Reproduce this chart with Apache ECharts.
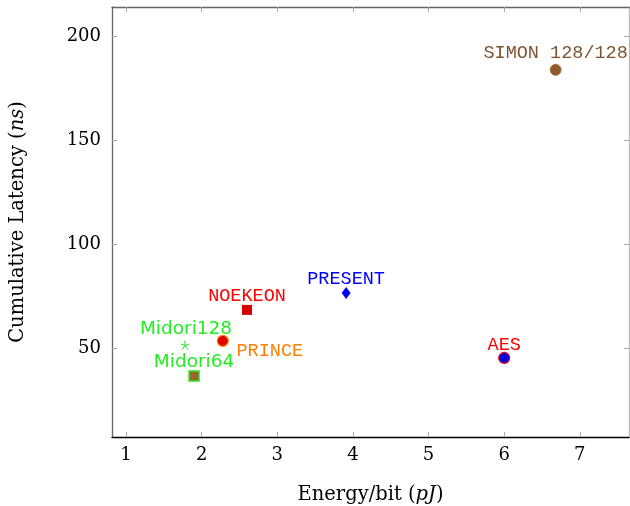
<!DOCTYPE html>
<html><head><meta charset="utf-8">
<script src="https://cdn.jsdelivr.net/npm/echarts@6/dist/echarts.min.js"></script>
<style>html,body{margin:0;padding:0;background:#fff}#c{width:630px;height:506px}</style>
</head><body><div id="c"></div>
<script>
const cipherNames = ['SIMON 128/128','AES','PRESENT','NOEKEON','PRINCE','Midori128','Midori64'];
const energy = [6.68, 6.0, 3.91, 2.6, 2.28, 1.78, 1.9];
const latency = [183.7, 45.2, 76.4, 68.3, 53.4, 51.4, 36.5];
const xTicks = [1,2,3,4,5,6,7];
const yTicks = [50,100,150,200];

const mono = 'Liberation Mono';
const styles = [
  {symbol:'circle', size:11, fill:'#8c5a2c', border:'#a8743e', bw:1, label:'#7d5530', font:mono, fs:18.5, offset:[0,-17]},
  {symbol:'circle', size:11, fill:'#0000e0', border:'#ff0000', bw:1.2, label:'#ff0000', font:mono, fs:18.5, offset:[0,-13]},
  {symbol:'diamond', size:[9,12], fill:'#0000ff', border:'#0000ff', bw:0, label:'#0000ff', font:mono, fs:18.5, offset:[0,-14]},
  {symbol:'rect', size:10, fill:'#d40000', border:'#d40000', bw:0, label:'#ff0000', font:mono, fs:18.5, offset:[0,-14]},
  {symbol:'circle', size:11, fill:'#e00000', border:'#ff8000', bw:1.2, label:'#ff8000', font:mono, fs:18.5, offset:[47,10]},
  {symbol:'path://M0,-1L0,0M0.95,-0.31L0,0M0.59,0.81L0,0M-0.59,0.81L0,0M-0.95,-0.31L0,0', size:9, fill:'none', border:'#22dd22', bw:1, label:'#22ee22', font:'DejaVu Sans', fs:18.5, offset:[1,-16]},
  {symbol:'rect', size:10, fill:'#9a6532', border:'#22ee22', bw:1.5, label:'#22ee22', font:'DejaVu Sans', fs:18.5, offset:[0,-14]}
];

const series = cipherNames.map((n,i)=>({
  type:'scatter', name:n, xAxisIndex:0, yAxisIndex:0,
  data:[[energy[i], latency[i]]],
  symbol:styles[i].symbol, symbolSize:styles[i].size,
  itemStyle:{color:styles[i].fill, borderColor:styles[i].border, borderWidth:styles[i].bw, opacity:1},
  label:{show:true, formatter:n, position:'inside', offset:styles[i].offset, color:styles[i].label,
         fontFamily:styles[i].font, fontSize:styles[i].fs},
  emphasis:{disabled:true}, silent:true, clip:false
}));

const serif = 'DejaVu Serif';
const xMin=0.815, xMax=7.65, yMin=7.2, yMax=213.9;
const chart = echarts.init(document.getElementById('c'), null, {renderer:'canvas'});
chart.setOption({
  animation:false,
  grid:{left:112, top:7, right:1, bottom:69, containLabel:false, outerBoundsMode:'none'},
  xAxis:[
    {type:'value', min:xMin, max:xMax, position:'bottom',
     axisLine:{show:true, lineStyle:{color:'#000', width:1.3}},
     axisTick:{show:true, inside:true, length:5, customValues:xTicks, lineStyle:{color:'#aaa'}},
     axisLabel:{customValues:xTicks, color:'#000', fontFamily:serif, fontSize:18, margin:9},
     splitLine:{show:false},
     name:'Energy/bit ({i|pJ})', nameLocation:'middle', nameGap:48,
     nameTextStyle:{color:'#000', fontFamily:serif, fontSize:19.5, rich:{i:{fontStyle:'italic', fontFamily:serif, fontSize:19.5}}}},
    {type:'value', min:xMin, max:xMax, position:'top',
     axisLine:{show:true, onZero:false, lineStyle:{color:'#666', width:1.3}},
     axisTick:{show:true, inside:true, length:5, customValues:xTicks, lineStyle:{color:'#aaa'}},
     axisLabel:{show:false}, splitLine:{show:false}}
  ],
  yAxis:[
    {type:'value', min:yMin, max:yMax, position:'left',
     axisLine:{show:true, onZero:false, lineStyle:{color:'#666', width:1.3}},
     axisTick:{show:true, inside:true, length:5, customValues:yTicks, lineStyle:{color:'#aaa'}},
     axisLabel:{customValues:yTicks, color:'#000', fontFamily:serif, fontSize:18, margin:11},
     splitLine:{show:false},
     name:'Cumulative Latency ({i|ns})', nameLocation:'middle', nameGap:84, nameRotate:90,
     nameTextStyle:{color:'#000', fontFamily:serif, fontSize:19.5, rich:{i:{fontStyle:'italic', fontFamily:serif, fontSize:19.5}}}},
    {type:'value', min:yMin, max:yMax, position:'right',
     axisLine:{show:true, onZero:false, lineStyle:{color:'#bbb', width:1.3}},
     axisTick:{show:true, inside:true, length:5, customValues:yTicks, lineStyle:{color:'#aaa'}},
     axisLabel:{show:false}, splitLine:{show:false}}
  ],
  series: series
});
</script></body></html>
